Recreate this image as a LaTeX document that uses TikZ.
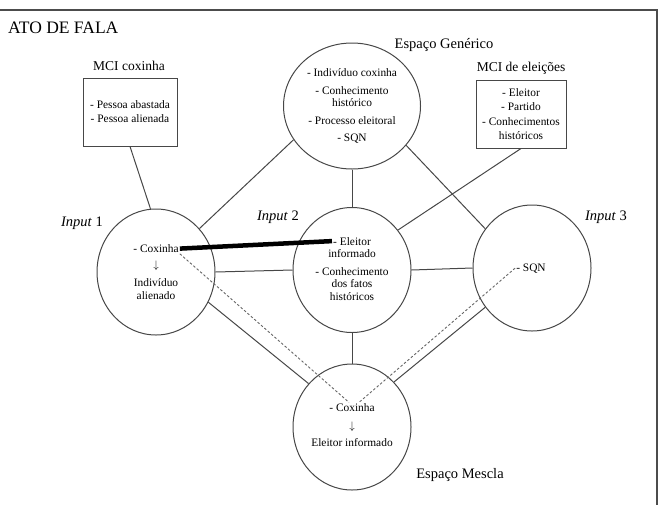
\documentclass[tikz,border=0pt]{standalone}
\usepackage{fontspec}
\setmainfont{Liberation Serif}
\usetikzlibrary{shapes.geometric}

\begin{document}
\begin{tikzpicture}[x=1pt,y=-1pt,
    elip/.style={ellipse,draw=black!72,line width=1pt,inner sep=0pt,minimum width=118pt,minimum height=126pt},
    caixa/.style={draw=black!72,line width=1pt,align=center,inner sep=0pt,font=\fontsize{11.4}{14}\selectfont},
    item/.style={align=center,inner sep=1pt,font=\fontsize{11.4}{12.5}\selectfont},
    rotulo/.style={inner sep=0pt,font=\fontsize{14.5}{16}\selectfont},
    liga/.style={black!72,line width=1pt},
    tracado/.style={black!60,line width=0.9pt,dash pattern=on 2.5pt off 2pt}]
  \useasboundingbox (0,0) rectangle (663,504);
  \draw[black!70,line width=1.2pt] (-2,520) -- (-2,10) -- (657,10) -- (657,520);
  \node[anchor=west,inner sep=0pt,font=\fontsize{17.5}{20}\selectfont] (titulo) at (8,28) {ATO DE FALA};

  % espacos mentais
  \node[elip,minimum width=137pt] (gen) at (352,106) {};
  \node[elip] (in1) at (156,272) {};
  \node[elip,minimum height=125pt] (in2) at (352,270) {};
  \node[elip] (in3) at (532,268) {};
  \node[elip] (mes) at (352,427) {};
  \node[caixa,minimum width=94pt,minimum height=68pt] (mci1) at (130,112) {- Pessoa abastada\\- Pessoa alienada};
  \node[caixa,minimum width=90pt,minimum height=68pt,font=\fontsize{11.4}{14.6}\selectfont] (mci2) at (521,114) {- Eleitor\\- Partido\\- Conhecimentos\\históricos};

  % rotulos
  \node[rotulo,anchor=base] (tgen) at (444,48) {Espaço Genérico};
  \node[rotulo,anchor=base] (tmes) at (460,478) {Espaço Mescla};
  \node[rotulo,anchor=base,font=\fontsize{13.5}{16}\selectfont] (tmci1) at (129,70.5) {MCI coxinha};
  \node[rotulo,anchor=base,font=\fontsize{13.5}{16}\selectfont] (tmci2) at (521,71.5) {MCI de eleições};
  \node[rotulo,anchor=base] (tin1) at (82,226) {\textit{Input} 1};
  \node[rotulo,anchor=base] (tin2) at (278,220) {\textit{Input} 2};
  \node[rotulo,anchor=base] (tin3) at (606,220) {\textit{Input} 3};

  % conteudo dos espacos
  \node[item] (igen) at (352,106) {- Indivíduo coxinha\\[5.5pt]- Conhecimento\\histórico\\[5.5pt]- Processo eleitoral\\[4.5pt]- SQN};
  \node[item,anchor=base] (c1) at (156,252.5) {- Coxinha};
  \node[item] (s1) at (156,266) {$\downarrow$};
  \node[item] (ia1) at (156,289) {Indivíduo\\alienado};
  \node[item,anchor=base] (el2) at (352,245) {- Eleitor};
  \node[item,anchor=base] (inf2) at (352,257.5) {informado};
  \node[item] (ch2) at (352,284) {- Conhecimento\\dos fatos\\históricos};
  \node[item,anchor=base] (sqn3) at (531,271) {- SQN};
  \node[item,anchor=base] (cm) at (352,411.5) {- Coxinha};
  \node[item] (sm) at (352,427) {$\downarrow$};
  \node[item,anchor=base] (eim) at (352,446.5) {Eleitor informado};

  % ligacoes
  \draw[liga] (mci1.south) -- (in1.95);
  \draw[liga] (gen.210) -- (in1.45);
  \draw[liga] (gen.south) -- (in2.north);
  \draw[liga] (gen.324) -- (in3.140);
  \draw[liga] (mci2.south) -- (in2.41);
  \draw[liga] (in1.east) -- (in2.west);
  \draw[liga] (in2.east) -- (in3.west);
  \draw[liga] (in2.south) -- (mes.north);
  \draw[liga] (in1.330) -- (mes.135);
  \draw[liga] (in3.220) -- (mes.47);
  \draw[line width=4.5pt] (c1.east) -- (el2.west);
  \draw[tracado] (c1.south east) -- ([xshift=-3pt]cm.north);
  \draw[tracado] (sqn3.west) -- ([xshift=7pt]cm.north);
\end{tikzpicture}
\end{document}
